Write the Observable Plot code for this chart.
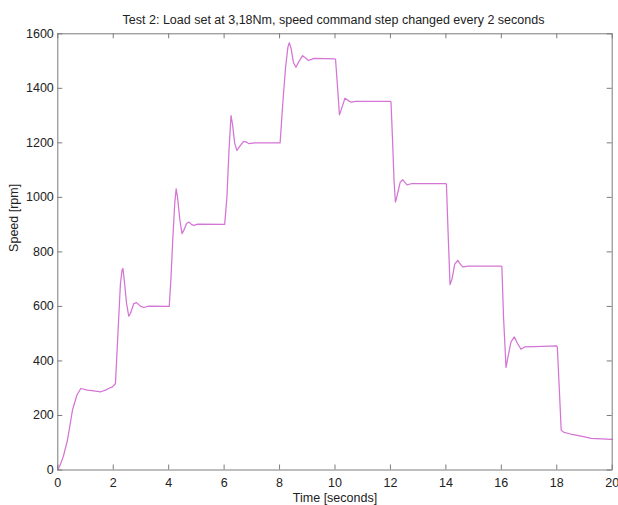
<!DOCTYPE html>
<html>
<head>
<meta charset="utf-8">
<script src="https://cdn.jsdelivr.net/npm/d3@7"></script>
<script src="https://cdn.jsdelivr.net/npm/@observablehq/plot@0.6"></script>
<style>
  html, body { margin: 0; padding: 0; background: #fff; }
  #chart { width: 618px; height: 505px; }
</style>
</head>
<body>
<div id="chart"></div>
<script>
const titleText = "Test 2: Load set at 3,18Nm, speed command step changed every 2 seconds";
const xLabel = "Time [seconds]";
const yLabel = "Speed [rpm]";
const xTicks = [0, 2, 4, 6, 8, 10, 12, 14, 16, 18, 20];
const yTicks = [0, 200, 400, 600, 800, 1000, 1200, 1400, 1600];

const time = [
  0, 0.1, 0.2, 0.35, 0.53, 0.69, 0.83, 1.07, 1.3, 1.55, 1.72, 1.85, 1.97, 2.02,
  2.08, 2.14, 2.2, 2.26, 2.32, 2.35, 2.41, 2.48, 2.56, 2.62, 2.74, 2.84, 2.98, 3.1, 3.28, 4.0,
  4.02, 4.08, 4.15, 4.22, 4.27, 4.32, 4.4, 4.48, 4.55, 4.65, 4.74, 4.83, 4.92, 5.05, 6.0,
  6.02, 6.1, 6.18, 6.25, 6.3, 6.38, 6.46, 6.55, 6.7, 6.8, 6.9, 7.1, 8.0,
  8.02, 8.12, 8.22, 8.3, 8.35, 8.42, 8.5, 8.59, 8.68, 8.83, 8.95, 9.04, 9.15, 9.25, 10.0,
  10.02, 10.1, 10.16, 10.22, 10.36, 10.48, 10.58, 10.75, 12.0,
  12.02, 12.08, 12.13, 12.18, 12.25, 12.35, 12.44, 12.52, 12.6, 12.75, 14.0,
  14.02, 14.08, 14.15, 14.22, 14.32, 14.43, 14.52, 14.61, 14.8, 16.0,
  16.02, 16.08, 16.17, 16.25, 16.35, 16.47, 16.58, 16.71, 16.85, 17.2, 18.0,
  18.02, 18.1, 18.16, 18.26, 18.5, 18.88, 19.24, 19.6, 20.0
];
const speed = [
  0, 22, 50, 110, 220, 275, 299, 293, 290, 287, 293, 300, 305, 310,
  317, 440, 562, 684, 735, 739, 684, 611, 564, 574, 610, 614, 601, 596, 601, 600,
  600, 700, 850, 980, 1031, 1000, 920, 867, 880, 905, 909, 900, 897, 902, 901,
  901, 1000, 1180, 1300, 1270, 1200, 1172, 1185, 1205, 1203, 1197, 1200, 1200,
  1200, 1350, 1480, 1550, 1567, 1545, 1495, 1477, 1495, 1520, 1510, 1502, 1506, 1510, 1508,
  1506, 1392, 1303, 1320, 1364, 1355, 1349, 1352, 1352,
  1350, 1200, 1060, 983, 1010, 1055, 1065, 1055, 1046, 1050, 1050,
  1048, 870, 680, 700, 755, 769, 755, 745, 748, 748,
  746, 560, 376, 420, 470, 488, 465, 443, 452, 453, 455,
  450, 280, 146, 138, 132, 124, 116, 114, 112
];

const data = time.map((t, i) => ({t, v: speed[i]}));

const W = 618, H = 505;
const mL = 57.3, mR = 6.3, mT = 33.3, mB = 35.5;
const plotH = H - mT - mB;
const plotW = W - mL - mR;
const tickLen = 5;
const frameColor = "#7c7c7c";
const textColor = "#222";

const chart = Plot.plot({
  width: W,
  height: H,
  marginLeft: mL,
  marginRight: mR,
  marginTop: mT,
  marginBottom: mB,
  style: {fontFamily: "'Liberation Sans', Arial, sans-serif", fontSize: "12.5px", color: textColor, background: "#fff"},
  x: {domain: [0, 20]},
  y: {domain: [0, 1600]},
  marks: [
    // inward ticks on all four sides
    Plot.tickX(xTicks, {x: d => d, insetTop: plotH - tickLen, stroke: frameColor}),
    Plot.tickX(xTicks, {x: d => d, insetBottom: plotH - tickLen, stroke: frameColor}),
    Plot.tickY(yTicks, {y: d => d, insetRight: plotW - tickLen, stroke: frameColor}),
    Plot.tickY(yTicks, {y: d => d, insetLeft: plotW - tickLen, stroke: frameColor}),
    Plot.axisX({ticks: xTicks, tickSize: 0, tickPadding: 8.5, label: null, fill: textColor, tickFormat: d => String(d)}),
    Plot.axisY({ticks: yTicks, tickSize: 0, tickPadding: 4, label: null, fill: textColor, tickFormat: d => String(d)}),
    Plot.line(data, {x: "t", y: "v", stroke: "#d474d4", strokeWidth: 1.25, curve: "linear"}),
    Plot.frame({stroke: frameColor}),
    Plot.text([titleText], {frameAnchor: "top", lineAnchor: "bottom", dy: -10, dx: -1.5, text: d => d, fill: textColor, fontSize: 12.5}),
    Plot.text([xLabel], {frameAnchor: "bottom", lineAnchor: "bottom", dy: 31.5, text: d => d, fill: textColor, fontSize: 12.5}),
    Plot.text([yLabel], {frameAnchor: "left", lineAnchor: "bottom", rotate: -90, dx: -39.5, text: d => d, fill: textColor, fontSize: 12.5})
  ]
});

document.getElementById("chart").appendChild(chart);
</script>
</body>
</html>
